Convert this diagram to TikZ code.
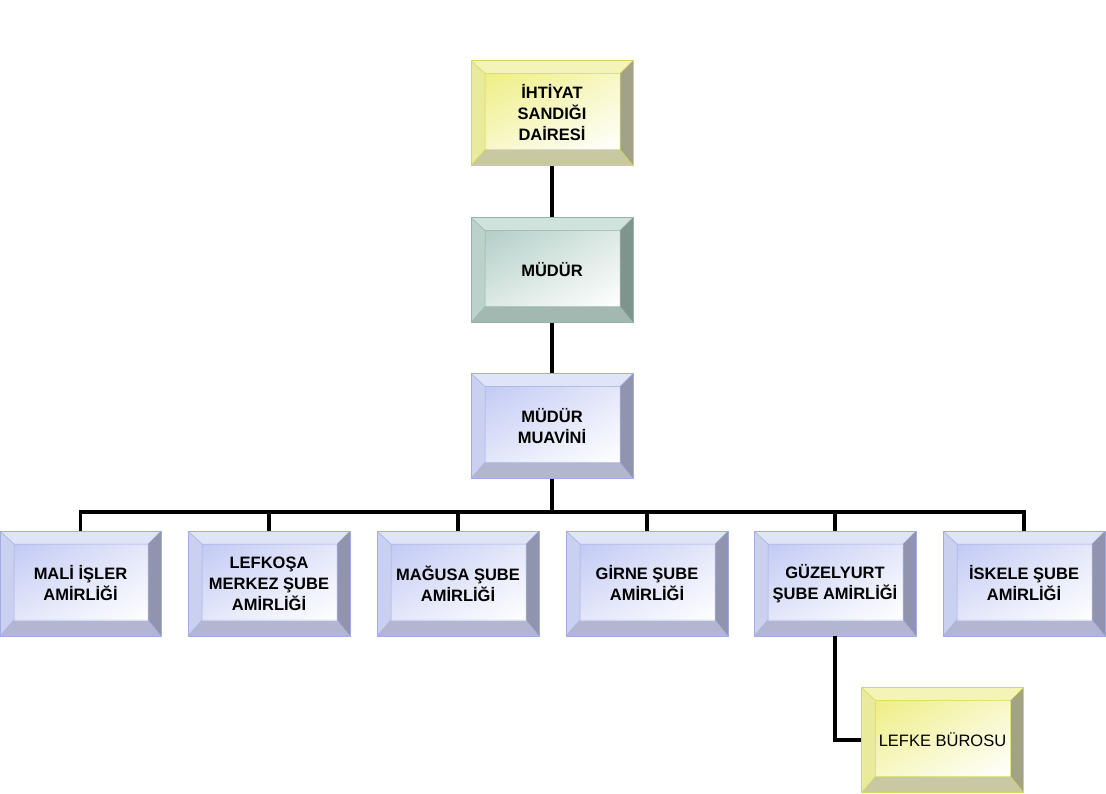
\documentclass[tikz,border=0pt]{standalone}
\usepackage{fontspec}
\setmainfont{Liberation Sans}
\usetikzlibrary{calc,shadings}
\definecolor{yTop}{HTML}{F4F4B8}
\definecolor{yLeft}{HTML}{EAEA9C}
\definecolor{yRight}{HTML}{A2A286}
\definecolor{yBot}{HTML}{C8C8A2}
\definecolor{yIn}{HTML}{EEEE84}
\definecolor{yEdge}{HTML}{D2D850}
\definecolor{bTop}{HTML}{E0E4F8}
\definecolor{bLeft}{HTML}{CAD0F0}
\definecolor{bRight}{HTML}{9094AE}
\definecolor{bBot}{HTML}{B2B6D0}
\definecolor{bIn}{HTML}{C2CAF4}
\definecolor{bEdge}{HTML}{A2ACE2}
\definecolor{tTop}{HTML}{D0E2DC}
\definecolor{tLeft}{HTML}{BAD2CA}
\definecolor{tRight}{HTML}{80948E}
\definecolor{tBot}{HTML}{A4B8B2}
\definecolor{tIn}{HTML}{B2CEC6}
\definecolor{tEdge}{HTML}{92B4AA}
\newcommand\bevelpic[6]{%
  \path (path picture bounding box.north west) coordinate (NW)
        (path picture bounding box.south east) coordinate (SE);
  \path (NW) ++(14pt,-13pt) coordinate (nw);
  \path (SE) ++(-13pt,16pt) coordinate (se);
  \fill[#1] (NW) -- (NW -| SE) -- (nw -| se) -- (nw) -- cycle;
  \fill[#3] (NW -| SE) -- (SE) -- (se) -- (nw -| se) -- cycle;
  \fill[#4] (SE) -- (SE -| NW) -- (se -| nw) -- (se) -- cycle;
  \fill[#2] (SE -| NW) -- (NW) -- (nw) -- (se -| nw) -- cycle;
  \shade[upper left=#5, upper right=#5!45!white, lower left=#5!45!white, lower right=white] (nw) rectangle (se);
  \draw[#6, line width=0.5pt] (nw) rectangle (se) (NW) -- (nw) (NW -| SE) -- (nw -| se) (SE) -- (se) (SE -| NW) -- (se -| nw);
}
\tikzset{
  box/.style={minimum width=162pt, minimum height=105pt, inner sep=0pt, align=center,
    font=\fontsize{16.5}{21}\selectfont\bfseries, line width=0.8pt},
  ybox/.style={box, draw=yEdge, path picture={\bevelpic{yTop}{yLeft}{yRight}{yBot}{yIn}{yEdge}}},
  bbox/.style={box, draw=bEdge, path picture={\bevelpic{bTop}{bLeft}{bRight}{bBot}{bIn}{bEdge}}},
  tbox/.style={box, draw=tEdge, path picture={\bevelpic{tTop}{tLeft}{tRight}{tBot}{tIn}{tEdge}}},
  link/.style={line width=3.8pt, black},
}
\begin{document}
\begin{tikzpicture}[x=1pt,y=1pt]
\useasboundingbox (0,0) rectangle (1106,-793);
\node[ybox] (top) at (552,-113) {İHTİYAT\\SANDIĞI\\DAİRESİ};
\node[tbox] (mud) at (552,-270) {MÜDÜR};
\node[bbox] (mua) at (552,-426) {MÜDÜR\\MUAVİNİ};
\node[bbox, minimum width=161pt] (b1) at (80.5,-583.5) {MALİ İŞLER\\AMİRLİĞİ};
\node[bbox] (b2) at (269,-583.5) {LEFKOŞA\\MERKEZ ŞUBE\\AMİRLİĞİ};
\node[bbox] (b3) at (458,-583.5) {MAĞUSA ŞUBE\\AMİRLİĞİ};
\node[bbox] (b4) at (647,-583.5) {GİRNE ŞUBE\\AMİRLİĞİ};
\node[bbox] (b5) at (835,-583.5) {GÜZELYURT\\ŞUBE AMİRLİĞİ};
\node[bbox] (b6) at (1024,-583.5) {İSKELE ŞUBE\\AMİRLİĞİ};
\node[ybox, font=\fontsize{16.5}{21}\selectfont] (lef) at (942.5,-740) {LEFKE BÜROSU};
\coordinate (bus) at (552,-512);
\draw[link] (top.south) -- (mud.north);
\draw[link] (mud.south) -- (mua.north);
\draw[link] (mua.south) -- (bus);
\draw[link, line cap=rect] (b1.north |- bus) -- (b6.north |- bus);
\foreach \b in {b1,b2,b3,b4,b5,b6} \draw[link] (\b.north |- bus) -- (\b.north);
\draw[link] (b5.south) |- (lef.west);
\end{tikzpicture}
\end{document}
